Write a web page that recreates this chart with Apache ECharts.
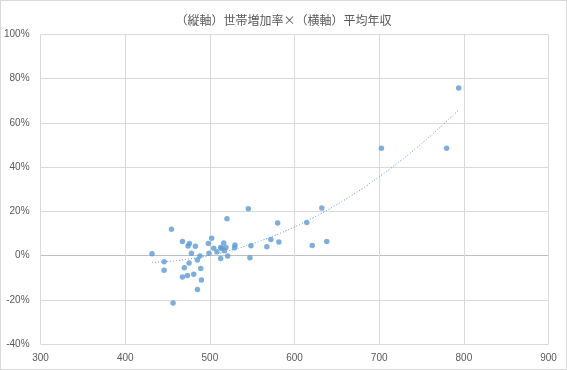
<!DOCTYPE html>
<html>
<head>
<meta charset="utf-8">
<script src="https://cdn.jsdelivr.net/npm/echarts@6/dist/echarts.min.js"></script>
<style>
html,body{margin:0;padding:0;background:#fff;}
#c{width:565px;height:368px;border:1px solid #d9d9d9;}
</style>
</head>
<body>
<div id="c"></div>
<script>
const titleText = '（縦軸）世帯増加率×（横軸）平均年収';
// average income (x)
const incomeValues = [
  454.6, 431.7, 467.6, 475.8, 474.2, 482.9, 502.1, 498.2, 504.5, 478.2,
  488.3, 498.9, 508.4, 512.7, 485.3, 445.9, 475.4, 445.9, 469.9, 489.2,
  473.5, 467.6, 480.9, 490.0, 485.3, 456.5,
  545.4, 520.2, 580.0, 512.7, 516.3, 513.9, 519.0, 517.1, 529.6, 529.2,
  548.5, 567.3, 572.0, 581.5, 521.0, 547.3,
  632.2, 614.5, 620.9, 638.1,
  702.6, 779.6, 793.9
];
// household growth rate in % (y)
const growthValues = [
  11.9, 0.8, 6.4, 5.5, 4.3, 4.2, 7.8, 5.5, 3.3, 1.0,
  -0.2, 1.0, 1.7, -1.3, -2.0, -2.8, -3.4, -6.6, -5.5, -5.8,
  -9.0, -9.7, -8.4, -11.1, -15.3, -21.5,
  21.2, 16.7, 14.7, 3.7, 5.7, 3.3, 3.7, 2.2, 4.8, 3.5,
  4.4, 4.0, 7.3, 6.1, -0.2, -1.0,
  21.5, 15.0, 4.6, 6.4,
  48.5, 48.5, 75.8
];
const xTicks = [300, 400, 500, 600, 700, 800, 900];
const yTicks = [-40, -20, 0, 20, 40, 60, 80, 100];

const points = incomeValues.map((x, i) => [x, growthValues[i]]);

// polynomial (order 2) least-squares trendline, as in the source spreadsheet
function quadFit(xs, ys) {
  let n = xs.length, s = [0,0,0,0,0], t = [0,0,0];
  for (let i = 0; i < n; i++) {
    let p = 1;
    for (let k = 0; k < 5; k++) { s[k] += p; if (k < 3) t[k] += p * ys[i]; p *= xs[i]; }
  }
  const A = [[s[0], s[1], s[2], t[0]], [s[1], s[2], s[3], t[1]], [s[2], s[3], s[4], t[2]]];
  for (let c = 0; c < 3; c++) {
    for (let r = c + 1; r < 3; r++) {
      const f = A[r][c] / A[c][c];
      for (let k = c; k < 4; k++) A[r][k] -= f * A[c][k];
    }
  }
  const b = [0,0,0];
  for (let r = 2; r >= 0; r--) {
    let v = A[r][3];
    for (let k = r + 1; k < 3; k++) v -= A[r][k] * b[k];
    b[r] = v / A[r][r];
  }
  return b;
}
const coef = quadFit(incomeValues, growthValues);
const xmin = Math.min(...incomeValues), xmax = Math.max(...incomeValues);
const trend = [];
for (let i = 0; i <= 80; i++) {
  const x = xmin + (xmax - xmin) * i / 80;
  trend.push([x, coef[0] + coef[1] * x + coef[2] * x * x]);
}

const grid = '#d9d9d9';
const splitColors = yTicks.map(v => v === 0 ? '#bfbfbf' : grid);

const chart = echarts.init(document.getElementById('c'), null, {renderer: 'canvas'});
chart.setOption({
  animation: false,
  backgroundColor: '#fff',
  title: {
    text: titleText,
    left: 'center',
    top: 8,
    textStyle: {fontFamily: 'Noto Sans CJK JP', fontSize: 12, fontWeight: 'normal', color: '#595959'}
  },
  grid: {left: 38.5, right: 17.5, top: 33.5, bottom: 25},
  xAxis: {
    type: 'value',
    min: xTicks[0], max: xTicks[xTicks.length - 1], interval: 100,
    axisLine: {show: false},
    axisTick: {show: false},
    axisLabel: {color: '#595959', fontSize: 10, fontFamily: 'Liberation Sans', margin: 9},
    splitLine: {show: true, lineStyle: {color: grid, width: 1}}
  },
  yAxis: {
    type: 'value',
    min: yTicks[0], max: yTicks[yTicks.length - 1], interval: 20,
    axisLine: {show: false},
    axisTick: {show: false},
    axisLabel: {color: '#595959', fontSize: 10, fontFamily: 'Liberation Sans', margin: 11,
      formatter: v => v + '%'},
    splitLine: {show: true, lineStyle: {color: splitColors, width: 1}}
  },
  series: [
    {
      type: 'line',
      data: trend,
      showSymbol: false,
      symbol: 'none',
      smooth: true,
      lineStyle: {color: '#5b9bd5', width: 1, type: [1, 2]},
      z: 1
    },
    {
      type: 'scatter',
      data: points,
      symbol: 'circle',
      symbolSize: 5.5,
      itemStyle: {color: '#5b9bd5'},
      z: 2
    }
  ]
});
</script>
</body>
</html>
